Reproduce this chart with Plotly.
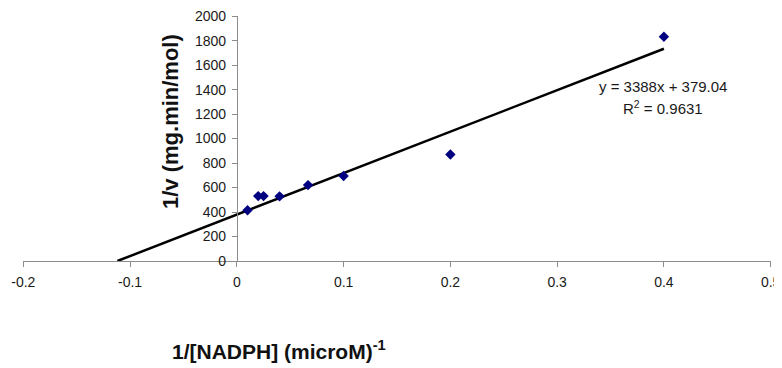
import plotly.graph_objects as go

# Data
x_vals = [0.01, 0.02, 0.025, 0.04, 0.0667, 0.1, 0.2, 0.4]
y_vals = [414, 530, 530, 528, 620, 694, 870, 1832]
slope = 3388
intercept = 379.04
fit_x = [-intercept / slope, 0.4]
fit_y = [slope * v + intercept for v in fit_x]

x_ticks = [-0.2, -0.1, 0, 0.1, 0.2, 0.3, 0.4, 0.5]
y_ticks = [0, 200, 400, 600, 800, 1000, 1200, 1400, 1600, 1800, 2000]

# page body has an 8px margin; the figure is sized to fit the window
OFF = 8
W, H = 782 - OFF, 368 - OFF
L, R, T, B = 23 - OFF, 11, 16 - OFF, 107
pw, ph = W - L - R, H - T - B
EPS_X, EPS_Y = 0.0003, 1.5


def px_to_paper_x(px):
    return (px - OFF - L) / pw


def px_to_paper_y(py):
    return (H - B - (py - OFF)) / ph


fig = go.Figure()
fig.add_trace(go.Scatter(x=fit_x, y=fit_y, mode="lines",
                         line=dict(color="black", width=2.5), showlegend=False))
fig.add_trace(go.Scatter(x=x_vals, y=y_vals, mode="markers",
                         marker=dict(symbol="diamond", color="#000080", size=8),
                         showlegend=False))

FONT = "Liberation Sans, Arial, sans-serif"
axis_font = dict(family=FONT, size=14, color="#1a1a1a")
fig.update_layout(
    width=W, height=H,
    margin=dict(l=L, r=R, t=T, b=B),
    plot_bgcolor="white", paper_bgcolor="white",
    xaxis=dict(range=[x_ticks[0] - EPS_X, x_ticks[-1] + EPS_X], tickvals=x_ticks,
               ticktext=[str(v) for v in x_ticks], ticklabeloverflow="allow",
               showgrid=False, zeroline=False, showline=True, automargin=False,
               linecolor="#8c8c8c", linewidth=1, ticks="outside", ticklen=5,
               tickcolor="#8c8c8c", tickfont=axis_font, ticklabelstandoff=3),
    yaxis=dict(range=[0, y_ticks[-1] + EPS_Y], tickvals=y_ticks, ticklabeloverflow="allow",
               showgrid=False, zeroline=False,
               showline=True, linecolor="#8c8c8c", linewidth=1, ticks="outside",
               ticklen=5, tickcolor="#8c8c8c", tickfont=axis_font, automargin=False,
               anchor="free", position=(0 - x_ticks[0] + EPS_X) / (x_ticks[-1] - x_ticks[0] + 2 * EPS_X),
               ticklabelstandoff=3),
    annotations=[
        dict(text="y = 3388x + 379.04", x=px_to_paper_x(663), y=px_to_paper_y(86),
             xref="paper", yref="paper", xanchor="center", yanchor="middle",
             showarrow=False, font=dict(family=FONT, size=15, color="#1a1a1a")),
        dict(text="R<sup>2</sup> = 0.9631", x=px_to_paper_x(663), y=px_to_paper_y(107),
             xref="paper", yref="paper", xanchor="center", yanchor="middle",
             showarrow=False, font=dict(family=FONT, size=15, color="#1a1a1a")),
        dict(text="<b>1/v (mg.min/mol)</b>", x=px_to_paper_x(171), y=px_to_paper_y(122),
             xref="paper", yref="paper", xanchor="center", yanchor="middle",
             showarrow=False, textangle=-90,
             font=dict(family=FONT, size=22, color="#111")),
        dict(text="<b>1/[NADPH] (microM)<sup>-1</sup></b>", x=px_to_paper_x(279),
             y=px_to_paper_y(350), xref="paper", yref="paper", xanchor="center",
             yanchor="middle", showarrow=False,
             font=dict(family=FONT, size=21, color="#111")),
    ],
)
fig.write_html("out.html")
